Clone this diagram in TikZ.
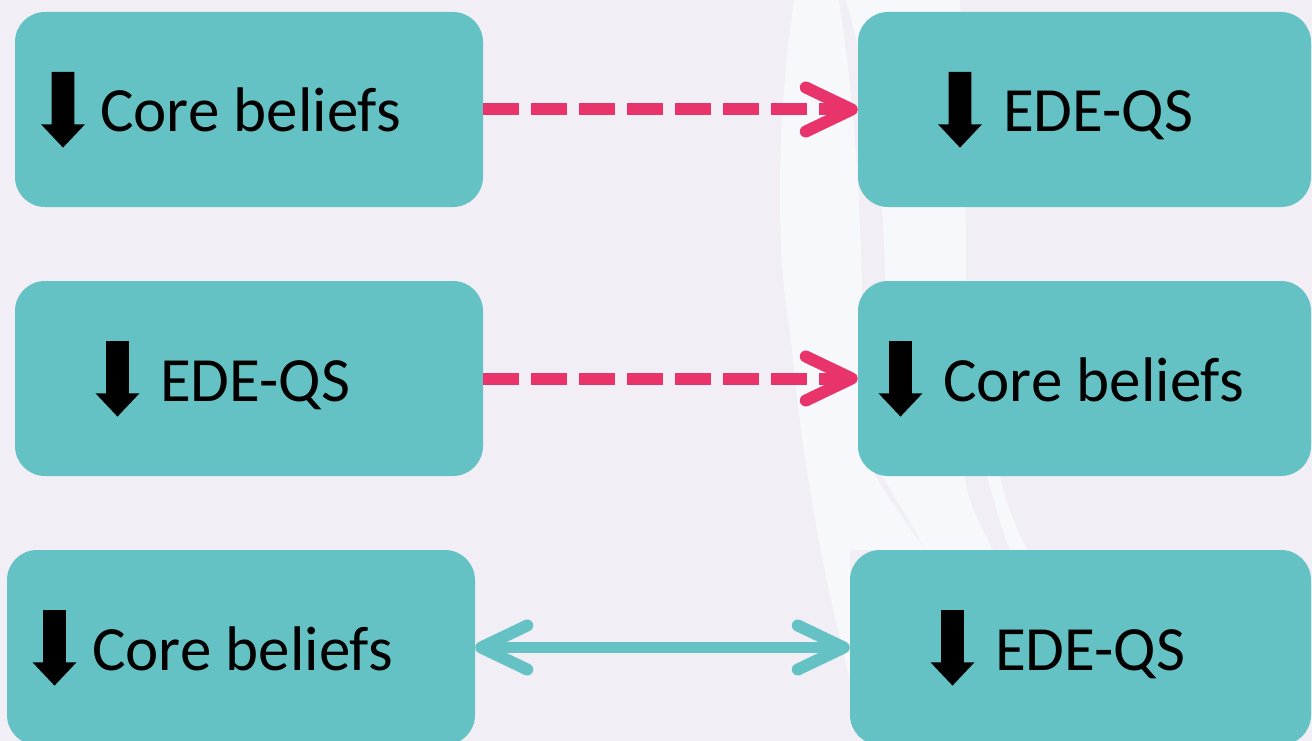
\documentclass[tikz,border=0pt]{standalone}
\usepackage{fontspec}
\setmainfont{Carlito}
\usetikzlibrary{arrows.meta,positioning}
\definecolor{bgcol}{HTML}{F1EEF5}
\definecolor{swcol}{HTML}{F7F8FC}
\definecolor{boxcol}{HTML}{65C2C4}
\definecolor{pinkcol}{HTML}{E9336B}
\tikzset{x=1pt,y=-1pt,
  tbox/.style={fill=boxcol,rounded corners=30pt,minimum height=195pt,inner sep=0pt},
  lbl/.style={anchor=base west,inner sep=0pt,font=\fontsize{63}{66}\selectfont},
  downglyph/.pic={\fill (-11.3,0) -- (11.3,0) -- (11.3,52.3) -- (22,52.3)
    -- (0,75.6) -- (-22,52.3) -- (-11.3,52.3) -- cycle;},
  chev/.tip={Straight Barb[length=46pt,width=44pt,line width=12pt,round]},
  pinkdash/.style={draw=pinkcol,line width=12pt,dash pattern=on 36pt off 12pt,-chev},
  tealboth/.style={draw=boxcol,line width=11pt,chev-chev}}
\begin{document}
\begin{tikzpicture}
  \useasboundingbox (0,0) rectangle (1312,741);
  \fill[bgcol] (0,0) rectangle (1312,741);
  % background swooshes
  \fill[swcol] (794,0) .. controls (776,120) and (776,260) .. (790,330)
    .. controls (800,440) and (815,540) .. (850,680) -- (850,550) -- (925,550)
    .. controls (905,520) and (880,490) .. (863,450)
    .. controls (864,300) and (862,150) .. (839,0) -- cycle;
  \fill[swcol] (846,0) .. controls (872,90) and (886,200) .. (885,300)
    .. controls (884,400) and (878,450) .. (882,476)
    .. controls (900,505) and (915,530) .. (925,550) -- (993,550)
    .. controls (978,520) and (966,500) .. (965,476)
    .. controls (966,350) and (968,150) .. (960,0) -- cycle;
  \fill[swcol] (987,476) .. controls (995,505) and (1002,530) .. (1010,550)
    -- (1027,550) .. controls (1018,530) and (1005,505) .. (1000,476) -- cycle;
  % boxes
  \node[tbox,minimum width=468pt] (cbL) at (249,109.5) {};
  \node[tbox,minimum width=453pt] (edR) at (1084.5,109.5) {};
  \node[tbox,minimum width=468pt] (edL) at (249,378.5) {};
  \node[tbox,minimum width=453pt] (cbR) at (1084.5,378.5) {};
  \node[tbox,minimum width=468pt] (cbB) at (241,647.5) {};
  \node[tbox,minimum width=461pt] (edB) at (1080.5,647.5) {};
  % labels
  \pic at (63,72) {downglyph};
  \node[lbl] (cbLt) at (100,132) {Core beliefs};
  \pic at (960,72) {downglyph};
  \node[lbl] (edRt) at (1003,132) {EDE-QS};
  \pic at (117.5,341) {downglyph};
  \node[lbl] (edLt) at (160,401) {EDE-QS};
  \pic at (900.5,341) {downglyph};
  \node[lbl] (cbRt) at (943,401) {Core beliefs};
  \pic at (54.5,610) {downglyph};
  \node[lbl] (cbBt) at (92,670) {Core beliefs};
  \pic at (952.5,610) {downglyph};
  \node[lbl] (edBt) at (995,670) {EDE-QS};
  % connectors
  \draw[pinkdash] (cbL) -- (edR);
  \draw[pinkdash] (edL) -- (cbR);
  \draw[tealboth] (cbB) -- (edB);
\end{tikzpicture}
\end{document}
